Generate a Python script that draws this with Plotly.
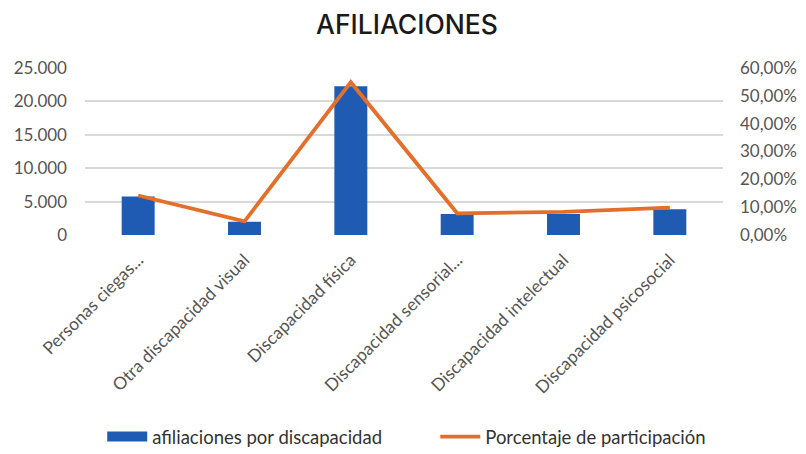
import plotly.graph_objects as go

categories = ["Personas ciegas...", "Otra discapacidad visual", "Discapacidad física",
              "Discapacidad sensorial...", "Discapacidad intelectual", "Discapacidad psicosocial"]
afiliaciones = [5750, 2000, 22250, 3150, 3150, 3850]
porcentaje = [0.142, 0.049, 0.549, 0.078, 0.083, 0.098]

left_ticks = [0, 5000, 10000, 15000, 20000, 25000]
right_ticks = [0, 0.1, 0.2, 0.3, 0.4, 0.5, 0.6]

BLUE = "#1F5BB2"
ORANGE = "#E46F2A"
GREY = "#555555"
FONT = "Lato"

fig = go.Figure()
fig.add_trace(go.Bar(x=categories, y=afiliaciones, name="afiliaciones por discapacidad",
                     marker=dict(color=BLUE, line=dict(width=0)), yaxis="y",
                     showlegend=False, legendgroup="bar"))
# legend entry with a wide blue box symbol (like the reference) for the bar series
fig.add_trace(go.Scatter(x=[None], y=[None], mode="lines", name="afiliaciones por discapacidad",
                         line=dict(color=BLUE, width=11), legendgroup="bar", hoverinfo="skip",
                         legend="legend"))
fig.add_trace(go.Scatter(x=categories, y=porcentaje, name="Porcentaje de participación",
                         mode="lines", line=dict(color=ORANGE, width=3.8), yaxis="y2",
                         legend="legend2"))

legend_common = dict(orientation="h", y=-1.21, yanchor="middle", xanchor="left",
                     font=dict(family=FONT, size=18.5, color="#333333"), itemwidth=40,
                     bgcolor="rgba(0,0,0,0)")

# page body has an 8px margin, so the figure is 8px smaller than the window
fig.update_layout(
    width=798, height=446,
    paper_bgcolor="white", plot_bgcolor="white",
    separators=",.",
    margin=dict(l=77, r=83, t=60, b=219, autoexpand=False),
    title=dict(text="AFILIACIONES", x=0.5, xanchor="center", y=0.962, yanchor="middle",
               font=dict(family="Inter", size=26.5, color="#1A1A1A", weight=500)),
    bargap=0.69,
    showlegend=True,
    legend=dict(x=0.027, **legend_common),
    legend2=dict(x=0.549, **legend_common),
    xaxis=dict(tickangle=-45, tickfont=dict(family=FONT, size=17.5, color=GREY),
               showgrid=False, showline=False, ticks="outside", ticklen=7,
               tickcolor="rgba(255,255,255,0)"),
    yaxis=dict(range=[0, 25000], tickvals=left_ticks, tickformat=",d",
               showgrid=True, gridcolor="#D9D9D9", gridwidth=1.5, zeroline=False,
               tickfont=dict(family=FONT, size=17, color=GREY), ticks="",
               ticklabelstandoff=17),
    yaxis2=dict(range=[0, 0.6], tickvals=right_ticks, tickformat=".2%",
                overlaying="y", side="right", showgrid=False, zeroline=False,
                tickfont=dict(family=FONT, size=17, color=GREY), ticks="",
                ticklabelstandoff=16),
)

fig.write_html("out.html")
